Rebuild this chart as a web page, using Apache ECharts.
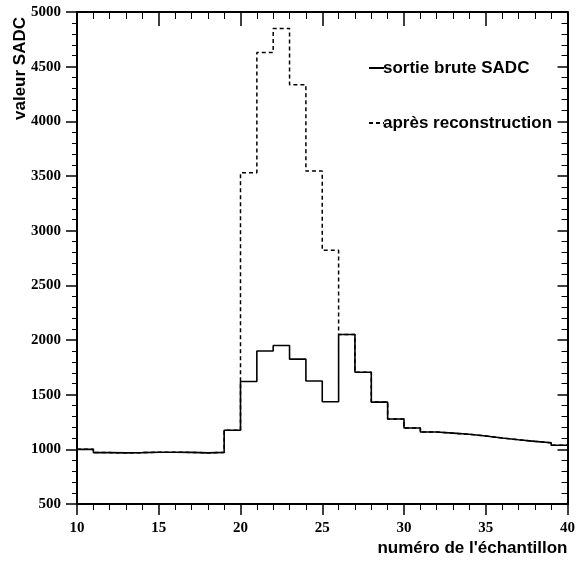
<!DOCTYPE html>
<html>
<head>
<meta charset="utf-8">
<script src="https://cdn.jsdelivr.net/npm/echarts@6/dist/echarts.min.js"></script>
<style>
  html, body { margin: 0; padding: 0; background: #fff; }
  #chart { width: 578px; height: 563px; }
</style>
</head>
<body>
<div id="chart"></div>
<script>
// bin edges (numéro de l'échantillon), one value per bin [edge, edge+1)
const binStart = [10, 11, 12, 13, 14, 15, 16, 17, 18, 19, 20, 21, 22, 23, 24,
                  25, 26, 27, 28, 29, 30, 31, 32, 33, 34, 35, 36, 37, 38, 39];
const lastEdge = 40;
const brute = [1000, 970, 968, 970, 973, 973, 972, 968, 972, 1175, 1620, 1900, 1950, 1825, 1625,
               1435, 2050, 1705, 1432, 1278, 1195, 1158, 1148, 1138, 1122, 1104, 1087, 1073, 1060, 1037];
const reconstruction = [1000, 970, 968, 970, 973, 973, 972, 968, 972, 1175, 3530, 4630, 4850, 4335, 3545,
                        2820, 2050, 1705, 1432, 1278, 1195, 1158, 1148, 1138, 1122, 1104, 1087, 1073, 1060, 1037];
const xTicks = [10, 15, 20, 25, 30, 35, 40];
const yTicks = [500, 1000, 1500, 2000, 2500, 3000, 3500, 4000, 4500, 5000];
const legendNames = ["sortie brute SADC", "après reconstruction"];

function toSteps(values) {
    const pts = binStart.map((x, i) => [x, values[i]]);
    pts.push([lastEdge, values[values.length - 1]]);
    return pts;
}

const chart = echarts.init(document.getElementById("chart"));
const tickFont = {fontFamily: "Liberation Serif", fontWeight: "bold", fontSize: 15, color: "#000"};
const titleFont = {fontFamily: "Liberation Sans", fontWeight: "bold", fontSize: 17, color: "#000"};
const axisLine = {show: true, onZero: false, lineStyle: {color: "#000", width: 2}};
const dash = [4, 3];

// hand-drawn legend: short line sample followed by the label
function legendItem(y, name, lineType) {
    return [{
        type: "line",
        shape: {x1: 369, y1: y, x2: 384, y2: y},
        style: {stroke: "#000", lineWidth: 2, lineDash: lineType === "solid" ? null : dash}
    }, {
        type: "text",
        x: 383, y: y,
        style: {text: name, ...titleFont, fill: "#000", verticalAlign: "middle"}
    }];
}

chart.setOption({
    animation: false,
    backgroundColor: "#fff",
    grid: {left: 77, right: 10, top: 12, bottom: 59},
    xAxis: [{
        type: "value", min: 10, max: 40, interval: 5, position: "bottom",
        axisLine,
        axisTick: {show: true, length: 11, lineStyle: {color: "#000", width: 1.5}},
        minorTick: {show: true, splitNumber: 5, length: 6, lineStyle: {color: "#000", width: 1}},
        axisLabel: {...tickFont, margin: 17, formatter: v => xTicks.includes(v) ? String(v) : ""},
        splitLine: {show: false},
        name: "numéro de l'échantillon",
        nameLocation: "end",
        nameGap: 0,
        nameTextStyle: {...titleFont, align: "right", verticalAlign: "top", padding: [36, 0, 0, 0]}
    }, {
        type: "value", min: 10, max: 40, interval: 5, position: "top",
        axisLine,
        axisTick: {show: true, inside: true, length: 14, lineStyle: {color: "#000", width: 1.5}},
        minorTick: {show: true, splitNumber: 5, length: 7, lineStyle: {color: "#000", width: 1}},
        axisLabel: {show: false},
        splitLine: {show: false}
    }],
    yAxis: [{
        type: "value", min: 500, max: 5000, interval: 500, position: "left",
        axisLine,
        axisTick: {show: true, length: 11, lineStyle: {color: "#000", width: 1.5}},
        minorTick: {show: true, splitNumber: 5, length: 5, lineStyle: {color: "#000", width: 1}},
        axisLabel: {...tickFont, margin: 16, formatter: v => yTicks.includes(v) ? String(v) : ""},
        splitLine: {show: false}
    }, {
        type: "value", min: 500, max: 5000, interval: 500, position: "right",
        axisLine,
        axisTick: {show: true, inside: true, length: 10, lineStyle: {color: "#000", width: 1.5}},
        minorTick: {show: true, splitNumber: 5, length: 6, lineStyle: {color: "#000", width: 1}},
        axisLabel: {show: false},
        splitLine: {show: false}
    }],
    graphic: [{
        type: "text",
        x: 12, y: 120,
        rotation: Math.PI / 2,
        style: {text: "valeur SADC", ...titleFont, fill: "#000"}
    },
    ...legendItem(68, legendNames[0], "solid"),
    ...legendItem(123, legendNames[1], "dashed")],
    series: [{
        name: legendNames[1],
        type: "line",
        step: "end",
        symbol: "none",
        data: toSteps(reconstruction),
        lineStyle: {color: "#000", width: 1.5, type: dash},
        z: 2
    }, {
        name: legendNames[0],
        type: "line",
        step: "end",
        symbol: "none",
        data: toSteps(brute),
        lineStyle: {color: "#000", width: 1.6, type: "solid"},
        z: 3
    }]
});
</script>
</body>
</html>
